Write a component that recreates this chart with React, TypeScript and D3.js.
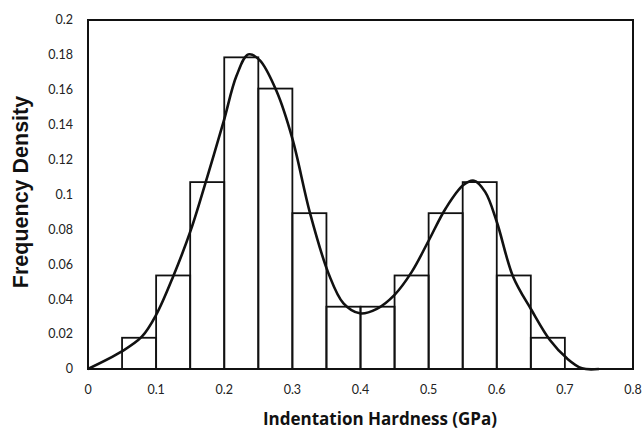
import React from "react";
import * as d3 from "d3";

const binStarts = [0.05, 0.1, 0.15, 0.2, 0.25, 0.3, 0.35, 0.4, 0.45, 0.5, 0.55, 0.6, 0.65];
const binDensity = [0.0179, 0.0536, 0.1071, 0.1786, 0.1607, 0.0893, 0.0357, 0.0357, 0.0536, 0.0893, 0.1071, 0.0536, 0.0179];
const binWidth = 0.05;

const curveX = [0, 0.049, 0.079, 0.1, 0.125, 0.151, 0.175, 0.199, 0.218, 0.2353, 0.252, 0.277, 0.3, 0.326, 0.353, 0.375, 0.399, 0.424, 0.45, 0.475, 0.5, 0.525, 0.551, 0.5666, 0.583, 0.6, 0.624, 0.651, 0.678, 0.703, 0.725, 0.75];
const curveY = [0, 0.0099, 0.0185, 0.031, 0.053, 0.0797, 0.11, 0.1417, 0.168, 0.1803, 0.177, 0.159, 0.132, 0.0892, 0.0548, 0.0376, 0.0319, 0.0345, 0.0425, 0.0555, 0.0735, 0.092, 0.1054, 0.1079, 0.1015, 0.0844, 0.0529, 0.0338, 0.0166, 0.0061, 0.0004, 0];

const xTicks = [0, 0.1, 0.2, 0.3, 0.4, 0.5, 0.6, 0.7, 0.8];
const yTicks = [0, 0.02, 0.04, 0.06, 0.08, 0.1, 0.12, 0.14, 0.16, 0.18, 0.2];

export default function App() {
  const W = 644, H = 431;
  const left = 88, right = 633, top = 20, bottom = 369;
  const x = d3.scaleLinear().domain([0, 0.8]).range([left, right]);
  const y = d3.scaleLinear().domain([0, 0.2]).range([bottom, top]);
  const pts: [number, number][] = curveX.map((v, i) => [v, curveY[i]]);
  const line = d3.line<[number, number]>().x(d => x(d[0])).y(d => y(d[1])).curve(d3.curveCatmullRom.alpha(0.5));
  const tickFont = "Lato, 'Open Sans', sans-serif";
  return (
    <svg width={W} height={H} style={{ position: "absolute", left: 0, top: 0, background: "#fff" }}>
      {binStarts.map((s, i) => (
        <rect key={i} x={x(s)} y={y(binDensity[i])} width={x(s + binWidth) - x(s)} height={y(0) - y(binDensity[i])}
          fill="none" stroke="#111" strokeWidth={1.8} />
      ))}
      <path d={line(pts) || ""} fill="none" stroke="#111" strokeWidth={2.6} />
      <rect x={left} y={top} width={right - left} height={bottom - top} fill="none" stroke="#111" strokeWidth={2} />
      {yTicks.map(t => (
        <text key={t} x={73} y={y(t)} dy="0.35em" textAnchor="end" fontFamily={tickFont} fontSize={12.5} fill="#222">
          {String(t)}
        </text>
      ))}
      {xTicks.map(t => (
        <text key={t} x={x(t)} y={394} textAnchor="middle" fontFamily={tickFont} fontSize={12.5} fill="#222">
          {String(t)}
        </text>
      ))}
      <text transform={`translate(28,192) rotate(-90)`} textAnchor="middle" fontFamily="'Liberation Sans', Arial, sans-serif"
        fontWeight="bold" fontSize={21.5} fill="#111">Frequency Density</text>
      <text x={380} y={425} textAnchor="middle" fontFamily="'Open Sans', sans-serif" fontWeight="bold" fontSize={17} fill="#111">
        Indentation Hardness (GPa)
      </text>
    </svg>
  );
}
